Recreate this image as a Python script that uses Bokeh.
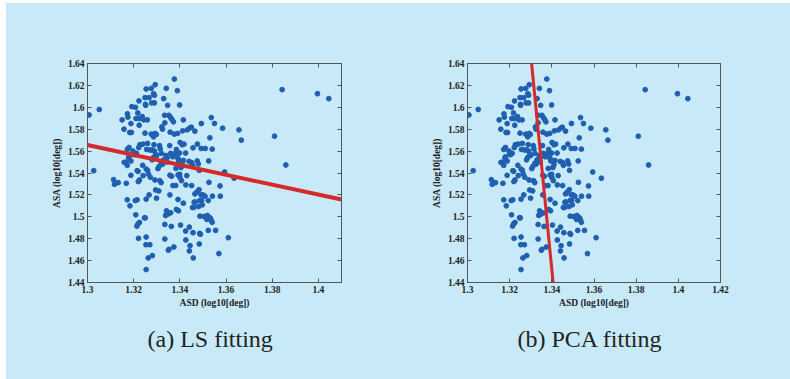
from bokeh.plotting import figure
from bokeh.layouts import row
from bokeh.models import FixedTicker, LinearAxis, Title
from bokeh.embed import file_html
from bokeh.resources import INLINE

# ---- data ----
asd = [
    1.3007, 1.3051, 1.3027, 1.3113, 1.3117, 1.3133,
    1.3150, 1.3158, 1.3173, 1.3175, 1.3188, 1.3183, 1.3190, 1.3197, 1.3200, 1.3172, 1.3180, 1.3178,
    1.3166, 1.3172, 1.3159, 1.3180, 1.3188, 1.3168, 1.3188, 1.3172, 1.3184, 1.3192, 1.3204,
    1.3208, 1.3218, 1.3223, 1.3237, 1.3210, 1.3224, 1.3224, 1.3212, 1.3227, 1.3222, 1.3240, 1.3215,
    1.3219, 1.3220, 1.3225, 1.3239, 1.3241, 1.3207, 1.3215, 1.3209, 1.3219, 1.3225, 1.3214, 1.3247,
    1.3221, 1.3244, 1.3249,
    1.3254, 1.3276, 1.3293, 1.3286, 1.3290, 1.3267, 1.3278, 1.3290, 1.3251, 1.3252, 1.3259, 1.3249,
    1.3276, 1.3292, 1.3298, 1.3286, 1.3260, 1.3288, 1.3256, 1.3270, 1.3280, 1.3290, 1.3300, 1.3280,
    1.3285, 1.3295, 1.3254, 1.3260, 1.3264, 1.3272, 1.3292, 1.3295, 1.3267, 1.3254, 1.3299, 1.3254,
    1.3253, 1.3270, 1.3263, 1.3281, 1.3254, 1.3250,
    1.3309, 1.3313, 1.3319, 1.3330, 1.3341, 1.3347, 1.3334, 1.3335, 1.3322, 1.3325, 1.3312, 1.3320,
    1.3325, 1.3310, 1.3305, 1.3330, 1.3340, 1.3345, 1.3342, 1.3348, 1.3338, 1.3335, 1.3335, 1.3345,
    1.3320, 1.3315,
    1.3376, 1.3389, 1.3399, 1.3353, 1.3360, 1.3366, 1.3372, 1.3358, 1.3376, 1.3390, 1.3401, 1.3356,
    1.3360, 1.3369, 1.3385, 1.3399, 1.3390, 1.3395, 1.3383, 1.3399, 1.3392, 1.3357, 1.3364, 1.3370,
    1.3382, 1.3357, 1.3392, 1.3360, 1.3385, 1.3394, 1.3363, 1.3353, 1.3350, 1.3374, 1.3395, 1.3380,
    1.3415, 1.3412, 1.3432, 1.3444, 1.3410, 1.3418, 1.3425, 1.3410, 1.3415, 1.3440, 1.3407, 1.3430,
    1.3426, 1.3415, 1.3403, 1.3425, 1.3426, 1.3441, 1.3444, 1.3441, 1.3400, 1.3405,
    1.3450, 1.3465, 1.3493, 1.3476, 1.3457, 1.3492, 1.3451, 1.3455, 1.3480, 1.3484, 1.3451, 1.3465,
    1.3474, 1.3483, 1.3462, 1.3466, 1.3486, 1.3494, 1.3481, 1.3492, 1.3455, 1.3460, 1.3497, 1.3457,
    1.3458, 1.3486, 1.3489, 1.3484, 1.3487, 1.3475,
    1.3510, 1.3540, 1.3536, 1.3550, 1.3530, 1.3525, 1.3500, 1.3509, 1.3523, 1.3541, 1.3526, 1.3504,
    1.3519, 1.3531, 1.3535, 1.3517, 1.3523, 1.3540,
    1.3555, 1.3569, 1.3610, 1.3574, 1.3575, 1.3594, 1.3635, 1.3585, 1.3656, 1.3666, 1.3810, 1.3859,
    1.3843, 1.3996, 1.4045,
]
asa = [
    1.5930, 1.5980, 1.5421, 1.5339, 1.5297, 1.5312,
    1.5885, 1.5800, 1.5940, 1.5910, 1.5851, 1.5770, 1.5770, 1.5600, 1.5570, 1.5615, 1.5633, 1.5536,
    1.5497, 1.5470, 1.5497, 1.5548, 1.5509, 1.5306, 1.5379, 1.5155, 1.5100, 1.6006, 1.5567,
    1.6000, 1.5948, 1.6058, 1.5915, 1.5897, 1.5897, 1.5836, 1.5580, 1.5658, 1.5633, 1.5664, 1.5421,
    1.5415, 1.5321, 1.5336, 1.5470, 1.5376, 1.5148, 1.5155, 1.5018, 1.4936, 1.4948, 1.4915, 1.4991,
    1.4803, 1.5885, 1.6088,
    1.6167, 1.6173, 1.6206, 1.6124, 1.6110, 1.6088, 1.6040, 1.6040, 1.6027, 1.6018, 1.5885, 1.5764,
    1.5755, 1.5761, 1.5752, 1.5730, 1.5670, 1.5658, 1.5615, 1.5610, 1.5610, 1.5600, 1.5560, 1.5520,
    1.5540, 1.5570, 1.5436, 1.5424, 1.5391, 1.5361, 1.5336, 1.5245, 1.5200, 1.5161, 1.5170, 1.4815,
    1.4745, 1.4745, 1.4624, 1.4646, 1.4518, 1.4990,
    1.5236, 1.5330, 1.5312, 1.6079, 1.6173, 1.6018, 1.5927, 1.5858, 1.5821, 1.5800, 1.5650, 1.5490,
    1.5480, 1.5460, 1.5440, 1.5520, 1.5560, 1.5540, 1.5055, 1.5024, 1.5012, 1.4930, 1.4797, 1.5500,
    1.5580, 1.5620,
    1.6258, 1.6152, 1.6021, 1.5927, 1.5906, 1.5888, 1.5867, 1.5773, 1.5755, 1.5761, 1.5679, 1.5650,
    1.5579, 1.5548, 1.5615, 1.5582, 1.5540, 1.5520, 1.5442, 1.5388, 1.5382, 1.5380, 1.5370, 1.5285,
    1.5285, 1.5200, 1.5158, 1.5036, 1.5067, 1.5055, 1.4912, 1.4703, 1.4695, 1.4724, 1.5510, 1.5580,
    1.5885, 1.5785, 1.5794, 1.5812, 1.5658, 1.5664, 1.5582, 1.5476, 1.5515, 1.5506, 1.5330, 1.5376,
    1.5291, 1.5124, 1.4924, 1.4870, 1.4788, 1.4906, 1.4736, 1.4688, 1.5360, 1.5450,
    1.5818, 1.5782, 1.5852, 1.5664, 1.5630, 1.5624, 1.5494, 1.5470, 1.5482, 1.5424, 1.5285, 1.5209,
    1.5227, 1.5248, 1.5133, 1.5135, 1.5148, 1.5150, 1.5094, 1.5200, 1.5085, 1.5085, 1.5109, 1.4855,
    1.4624, 1.4848, 1.4840, 1.4752, 1.5006, 1.5510,
    1.5624, 1.5618, 1.5906, 1.5852, 1.5721, 1.5510, 1.5200, 1.5188, 1.5148, 1.5188, 1.5315, 1.5003,
    1.5012, 1.4991, 1.4973, 1.4976, 1.4876, 1.4950,
    1.4876, 1.4664, 1.4809, 1.5282, 1.5188, 1.5409, 1.5352, 1.5809, 1.5794, 1.5700, 1.5736, 1.5473,
    1.6161, 1.6124, 1.6079,
]

# fitted lines (end points)
ls_x = [1.30, 1.41]
ls_y = [1.5655, 1.5158]
pca_x = [1.3304, 1.3406]
pca_y = [1.64, 1.44]

x_ticks_a = [1.30, 1.32, 1.34, 1.36, 1.38, 1.40]
x_labels_a = ["1.3", "1.32", "1.34", "1.36", "1.38", "1.4"]
x_ticks_b = [1.30, 1.32, 1.34, 1.36, 1.38, 1.40, 1.42]
x_labels_b = ["1.3", "1.32", "1.34", "1.36", "1.38", "1.4", "1.42"]
y_ticks = [1.44, 1.46, 1.48, 1.50, 1.52, 1.54, 1.56, 1.58, 1.60, 1.62, 1.64]
y_labels = ["1.44", "1.46", "1.48", "1.5", "1.52", "1.54", "1.56", "1.58", "1.6", "1.62", "1.64"]

captions = ["(a) LS fitting", "(b) PCA fitting"]
x_label = "ASD (log10[deg])"
y_label = "ASA (log10[deg])"

BG = "#c8eaf8"
DOT = "#1f5fb0"
RED = "#d42a2a"
AX = "#555555"
TXT = "#222222"
SERIF = "Liberation Serif"


def style_axis(ax):
    ax.major_tick_in = 4
    ax.major_tick_out = 0
    ax.minor_tick_line_color = None
    ax.axis_line_color = AX
    ax.major_tick_line_color = AX
    ax.major_label_text_font = SERIF
    ax.major_label_text_font_size = "9.5px"
    ax.major_label_text_color = TXT
    ax.major_label_text_font_style = "bold"
    ax.major_label_standoff = 3
    ax.axis_label_text_font = SERIF
    ax.axis_label_text_font_size = "9.5px"
    ax.axis_label_text_font_style = "bold"
    ax.axis_label_text_color = TXT


def make_fig(xr, xt, xl, width, borders, caption, cap_offset):
    l, r, t, b = borders
    p = figure(width=width, height=376, x_range=xr, y_range=(1.44, 1.64),
               output_backend="svg", toolbar_location=None,
               x_axis_location=None, y_axis_location=None,
               min_border_left=l, min_border_right=r,
               min_border_top=t, min_border_bottom=b)
    p.background_fill_color = BG
    p.border_fill_color = BG
    p.outline_line_color = AX
    p.grid.visible = False

    xb = LinearAxis(ticker=FixedTicker(ticks=xt), axis_label=x_label,
                    major_label_overrides=dict(zip(xt, xl)))
    style_axis(xb)
    xb.axis_label_standoff = 2
    p.add_layout(xb, "below")

    yl = LinearAxis(ticker=FixedTicker(ticks=y_ticks), axis_label=y_label,
                    major_label_overrides=dict(zip(y_ticks, y_labels)))
    style_axis(yl)
    yl.axis_label_standoff = 3
    p.add_layout(yl, "left")

    xa = LinearAxis(ticker=FixedTicker(ticks=xt),
                    major_label_overrides={v: "" for v in xt})
    style_axis(xa)
    p.add_layout(xa, "above")
    yr = LinearAxis(ticker=FixedTicker(ticks=y_ticks),
                    major_label_overrides={v: "" for v in y_ticks})
    style_axis(yr)
    p.add_layout(yr, "right")

    p.add_layout(Title(text=caption, align="left", offset=cap_offset, text_font=SERIF,
                       text_font_size="24px", text_font_style="normal",
                       text_color=TXT, standoff=27), "below")
    return p


pa = make_fig((1.30, 1.41), x_ticks_a, x_labels_a, 392, (81, 57, 59, 97), captions[0], 60)
pa.scatter(asd, asa, size=4.8, color=DOT, line_color=DOT)
pa.line(ls_x, ls_y, line_color=RED, line_width=4)

pb = make_fig((1.30, 1.42), x_ticks_b, x_labels_b, 392, (69, 70, 60, 95), captions[1], 50)
pb.scatter(asd, asa, size=4.8, color=DOT, line_color=DOT)
pb.line(pca_x, pca_y, line_color=RED, line_width=3)

layout = row(pa, pb, spacing=0, margin=(3, 0, 0, 6), styles={"background-color": BG})
open("out.html", "w").write(file_html(layout, INLINE))
